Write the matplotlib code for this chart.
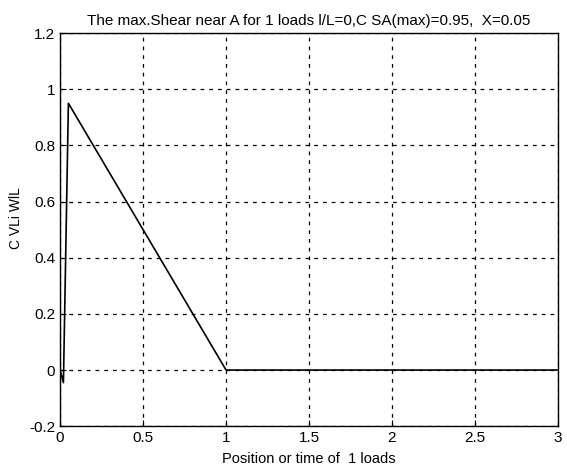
import matplotlib
matplotlib.use("Agg")
import matplotlib.pyplot as plt

plt.rcParams["font.family"] = ["Liberation Sans", "DejaVu Sans"]

# influence line of shear near A
pos = [0.0, 0.02, 0.05, 1.0, 3.0]
shear = [0.0, -0.045, 0.95, 0.0, 0.0]
xticks = [0, 0.5, 1, 1.5, 2, 2.5, 3]
yticks = [-0.2, 0, 0.2, 0.4, 0.6, 0.8, 1, 1.2]
xtick_labels = ["0", "0.5", "1", "1.5", "2", "2.5", "3"]
ytick_labels = ["-0.2", "0", "0.2", "0.4", "0.6", "0.8", "1", "1.2"]


def main():
    fig = plt.figure(figsize=(5.67, 4.73), dpi=100)
    ax = fig.add_axes([0.106, 0.099, 0.878, 0.831])
    ax.plot(pos, shear, color="black", lw=1.2)
    ax.set_xlim(0, 3)
    ax.set_ylim(-0.2, 1.2)
    ax.set_xticks(xticks)
    ax.set_xticklabels(xtick_labels)
    ax.set_yticks(yticks)
    ax.set_yticklabels(ytick_labels)
    ax.tick_params(direction="in", length=4, labelsize=11, colors="black")
    ax.grid(True, color="black", linestyle=(0, (3, 4)), lw=0.9)
    for s in ax.spines.values():
        s.set_linewidth(1.0)
    ax.set_title("The max.Shear near A for 1 loads l/L=0,C SA(max)=0.95,  X=0.05",
                 fontsize=11, pad=6)
    ax.set_xlabel("Position or time of  1 loads", fontsize=10.5)
    ax.xaxis.set_label_coords(0.5, -0.066)
    ax.set_ylabel("C VLi WlL", fontsize=10)
    ax.yaxis.set_label_coords(-0.075, 0.53)
    fig.savefig("out.png", dpi=100)


if __name__ == "__main__":
    main()
